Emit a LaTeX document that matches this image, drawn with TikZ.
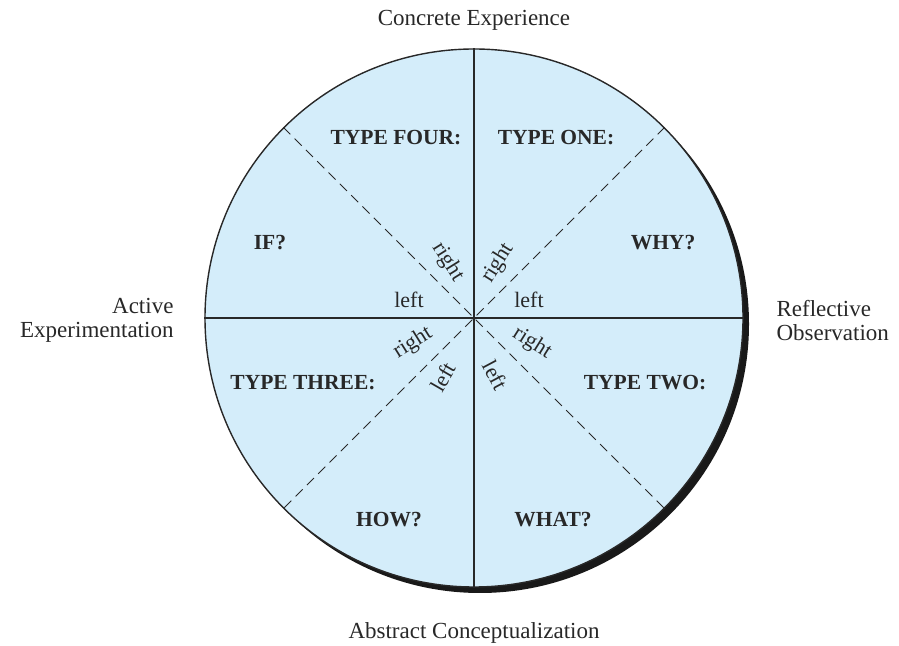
\documentclass[tikz,border=0pt]{standalone}
\usepackage{fontspec}
\setmainfont{Liberation Serif}
\usetikzlibrary{calc}

\definecolor{wheelblue}{RGB}{212,237,250}
\definecolor{inkgray}{RGB}{40,40,40}

\begin{document}
\begin{tikzpicture}[
  x=1pt, y=1pt,
  pole/.style={font=\fontsize{23}{24}\selectfont, text=inkgray, align=center},
  typelabel/.style={font=\fontsize{21.5}{22}\selectfont\bfseries, text=inkgray},
  side/.style={font=\fontsize{22}{22}\selectfont, text=inkgray, inner sep=0pt},
  axis/.style={draw=inkgray, line width=1.2pt},
  diag/.style={draw=inkgray, line width=0.9pt, dash pattern=on 10pt off 6pt}
]
\useasboundingbox (0,0) rectangle (899,645);

% --- Wheel with drop shadow ---
\node[circle, fill=black!90, minimum size=538pt, inner sep=0pt] (shadow) at (480,321) {};
\node[circle, draw=inkgray, line width=1.4pt, fill=wheelblue, minimum size=538pt, inner sep=0pt] (wheel) at (474,327) {};

% --- Solid axes ---
\draw[axis] (wheel.north) -- (wheel.south);
\draw[axis] (wheel.west) -- (wheel.east);

% --- Dashed diagonals ---
\draw[diag] (wheel.45) -- (wheel.225);
\draw[diag] (wheel.135) -- (wheel.315);

% --- Poles ---
\node[pole] (ce) at (474,625) {Concrete Experience};
\node[pole] (ac) at (474,12) {Abstract Conceptualization};
\node[pole, align=right, anchor=east] (ae) at (177,325) {Active\\Experimentation};
\node[pole, align=left, anchor=west] (ro) at (773,324) {Reflective\\Observation};

% --- Types and questions ---
\node[typelabel] (t4) at (396,507) {TYPE FOUR:};
\node[typelabel] (t1) at (556,507) {TYPE ONE:};
\node[typelabel] (q4) at (270,402) {IF?};
\node[typelabel] (q1) at (663,402) {WHY?};
\node[typelabel] (t3) at (303,262) {TYPE THREE:};
\node[typelabel] (t2) at (645,262) {TYPE TWO:};
\node[typelabel] (q3) at (389,125) {HOW?};
\node[typelabel] (q2) at (553,125) {WHAT?};

% --- Hemisphere markers ---
\node[side] (l4) at (409,345) {left};
\node[side] (l1) at (529,345) {left};
\node[side, rotate=-58] (r4) at (448,383) {right};
\node[side, rotate=58] (r1) at (498,382) {right};
\node[side, rotate=32] (r3) at (413,302) {right};
\node[side, rotate=-32] (r2) at (532,302) {right};
\node[side, rotate=60] (l3) at (443,268) {left};
\node[side, rotate=-62] (l2) at (495,270) {left};

\end{tikzpicture}
\end{document}
